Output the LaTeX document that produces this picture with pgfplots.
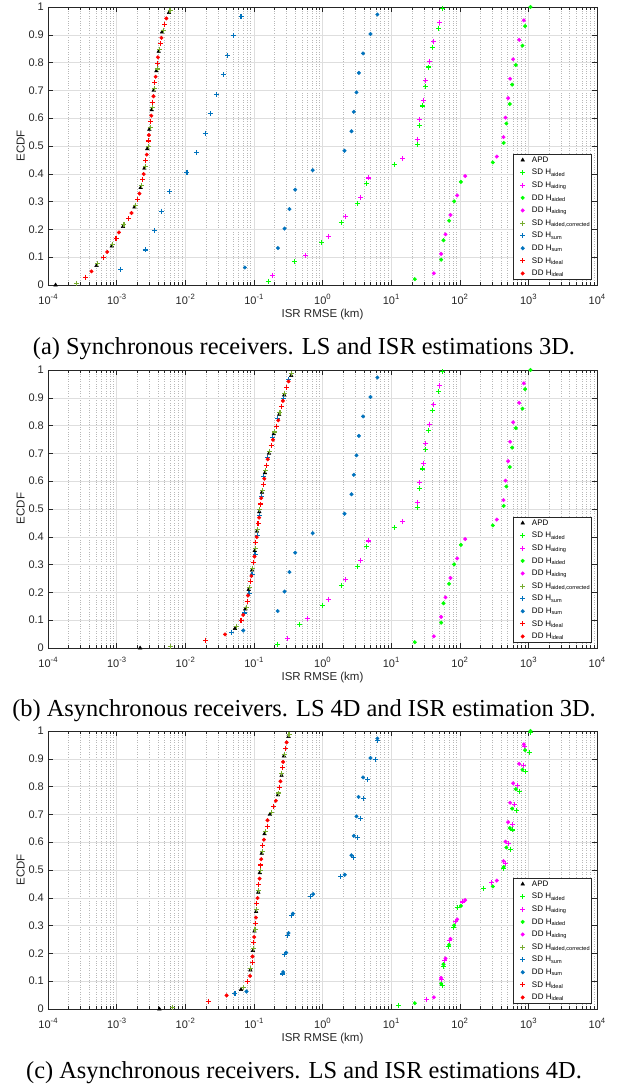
\documentclass[border=0pt]{standalone}
\usepackage{pgfplots}
\pgfplotsset{compat=1.18}
\usepackage{pgfplotstable}
\usepackage{fontspec}
\setmainfont{Liberation Serif}
\newfontfamily\arial{Liberation Sans}
\newcommand\sub[1]{\raisebox{-0.3ex}{\fontsize{5.6}{6}\selectfont #1}}
\newcommand\sups[1]{\raisebox{0.85ex}{\fontsize{7.7}{8}\selectfont #1}}
\definecolor{mgreen}{rgb}{0,1,0}
\definecolor{mmag}{rgb}{1,0,1}
\definecolor{molive}{rgb}{0.466,0.674,0.188}
\definecolor{mblue}{rgb}{0,0.447,0.741}
\definecolor{mred}{rgb}{1,0,0}
\definecolor{axgray}{rgb}{0.15,0.15,0.15}

% ---------------- data -----------------
\pgfplotstableread{
x y
22.1 0.021
53.6 0.091
58 0.161
70 0.231
82.9 0.301
104 0.371
303 0.441
437 0.511
478 0.581
536 0.651
580 0.721
656 0.791
820 0.861
897 0.931
1072 1.0
}\ddaided
\pgfplotstableread{
x y
41.9 0.042
53.6 0.112
62 0.182
73.3 0.252
91.7 0.322
120 0.392
347 0.462
434 0.532
464 0.602
507 0.672
542 0.742
600 0.812
734 0.882
858 0.952
}\ddaiding
\pgfplotstableread{
x y
0.163 0.014
0.39 0.084
0.98 0.154
1.89 0.224
3.2 0.294
4.37 0.364
11.3 0.434
24 0.504
25.7 0.574
28.6 0.644
32 0.714
35 0.784
39.6 0.854
49.6 0.924
56.6 0.994
}\Asdaided
\pgfplotstableread{
x y
0.187 0.035
0.56 0.105
1.21 0.175
2.19 0.245
3.62 0.315
4.63 0.385
14.8 0.455
24 0.525
26.2 0.595
29.3 0.665
32 0.735
35.8 0.805
41.9 0.875
51.3 0.945
}\Asdaiding
\pgfplotstableread{
x y
0.074 0.063
0.224 0.133
0.28 0.203
0.33 0.273
0.40 0.343
0.72 0.413
2.09 0.483
2.65 0.553
2.86 0.623
3.13 0.693
3.39 0.763
3.9 0.833
5.0 0.903
6.3 0.973
}\Addsum
\pgfplotstableread{
x y
1.29e-4 0
5.1e-4 0.07
8.5e-4 0.14
1.24e-3 0.21
1.82e-3 0.28
2.24e-3 0.35
2.54e-3 0.42
2.8e-3 0.49
3.0e-3 0.56
3.24e-3 0.63
3.47e-3 0.70
3.8e-3 0.77
4.1e-3 0.84
4.6e-3 0.91
5.8e-3 0.98
}\Aapd
\pgfplotstableread{
x y
2.6e-4 0.007
5.3e-4 0.077
8.8e-4 0.147
1.28e-3 0.217
1.88e-3 0.287
2.3e-3 0.357
2.6e-3 0.427
2.88e-3 0.497
3.08e-3 0.567
3.33e-3 0.637
3.56e-3 0.707
3.9e-3 0.777
4.2e-3 0.847
4.75e-3 0.917
6.0e-3 0.987
}\Aacor
\pgfplotstableread{
x y
1.15e-3 0.056
2.6e-3 0.126
3.57e-3 0.196
4.45e-3 0.266
5.9e-3 0.336
1.06e-2 0.406
1.46e-2 0.476
1.95e-2 0.546
2.36e-2 0.616
2.85e-2 0.686
3.6e-2 0.756
4.1e-2 0.826
5.0e-2 0.896
6.5e-2 0.966
}\Asdsum
\pgfplotstableread{
x y
3.5e-4 0.028
6.5e-4 0.098
9.8e-4 0.168
1.49e-3 0.238
2.04e-3 0.308
2.4e-3 0.378
2.65e-3 0.448
2.9e-3 0.518
3.1e-3 0.588
3.37e-3 0.658
3.6e-3 0.728
4.0e-3 0.798
4.36e-3 0.868
5.0e-3 0.938
}\Asdideal
\pgfplotstableread{
x y
4.3e-4 0.049
7.3e-4 0.119
1.08e-3 0.189
1.65e-3 0.259
2.15e-3 0.329
2.48e-3 0.399
2.75e-3 0.469
2.95e-3 0.539
3.2e-3 0.609
3.45e-3 0.679
3.7e-3 0.749
4.0e-3 0.819
4.5e-3 0.889
5.3e-3 0.959
}\Addideal
\pgfplotstableread{
x y
2.2e-3 0
0.053 0.07
0.075 0.14
0.084 0.21
0.094 0.28
0.103 0.35
0.111 0.42
0.120 0.49
0.131 0.56
0.145 0.63
0.166 0.70
0.195 0.77
0.234 0.84
0.277 0.91
0.35 0.98
}\Bapd
\pgfplotstableread{
x y
6.1e-3 0.007
0.055 0.077
0.077 0.147
0.086 0.217
0.096 0.287
0.105 0.357
0.113 0.427
0.122 0.497
0.133 0.567
0.148 0.637
0.170 0.707
0.20 0.777
0.24 0.847
0.283 0.917
0.355 0.987
}\Bacor
\pgfplotstableread{
x y
0.22 0.014
0.46 0.084
0.99 0.154
1.89 0.224
3.2 0.294
4.37 0.364
11.3 0.434
24 0.504
25.7 0.574
28.6 0.644
32 0.714
35 0.784
39.6 0.854
49.6 0.924
56.6 0.994
}\Bsdaided
\pgfplotstableread{
x y
0.307 0.035
0.60 0.105
1.21 0.175
2.19 0.245
3.62 0.315
4.63 0.385
14.8 0.455
24 0.525
26.2 0.595
29.3 0.665
32 0.735
35.8 0.805
41.9 0.875
51.3 0.945
}\Bsdaiding
\pgfplotstableread{
x y
0.02 0.028
0.065 0.098
0.080 0.168
0.088 0.238
0.099 0.308
0.107 0.378
0.115 0.448
0.125 0.518
0.137 0.588
0.152 0.658
0.179 0.728
0.212 0.798
0.253 0.868
0.30 0.938
}\Bsdideal
\pgfplotstableread{
x y
0.038 0.049
0.070 0.119
0.082 0.189
0.092 0.259
0.102 0.329
0.110 0.399
0.119 0.469
0.128 0.539
0.142 0.609
0.159 0.679
0.19 0.749
0.227 0.819
0.265 0.889
0.32 0.959
}\Bddideal
\pgfplotstableread{
x y
0.0475 0.056
0.074 0.126
0.085 0.196
0.094 0.266
0.104 0.336
0.112 0.406
0.122 0.476
0.13 0.546
0.14 0.616
0.157 0.686
0.187 0.756
0.222 0.826
0.27 0.896
0.32 0.966
}\Bsdsum
\pgfplotstableread{
x y
0.070 0.063
0.222 0.133
0.28 0.203
0.33 0.273
0.40 0.343
0.72 0.413
2.09 0.483
2.65 0.553
2.86 0.623
3.13 0.693
3.39 0.763
3.9 0.833
5.0 0.903
6.3 0.973
}\Bddsum
\pgfplotstableread{
x y
4.2e-3 0
0.065 0.07
0.089 0.14
0.097 0.21
0.102 0.28
0.108 0.35
0.116 0.42
0.122 0.49
0.130 0.56
0.143 0.63
0.171 0.70
0.224 0.77
0.253 0.84
0.274 0.91
0.32 0.98
}\Capd
\pgfplotstableread{
x y
6.6e-3 0.007
0.070 0.077
0.090 0.147
0.098 0.217
0.104 0.287
0.110 0.357
0.117 0.427
0.124 0.497
0.132 0.567
0.146 0.637
0.180 0.707
0.229 0.777
0.256 0.847
0.277 0.917
0.325 0.987
}\Cacor
\pgfplotstableread{
x y
0.0215 0.028
0.0817 0.098
0.0944 0.168
0.10 0.238
0.1045 0.308
0.109 0.378
0.117 0.448
0.125 0.518
0.135 0.588
0.156 0.658
0.195 0.728
0.234 0.798
0.262 0.868
0.289 0.938
}\Csdideal
\pgfplotstableread{
x y
0.040 0.049
0.088 0.119
0.0955 0.189
0.101 0.259
0.107 0.329
0.113 0.399
0.121 0.469
0.128 0.539
0.14 0.609
0.158 0.679
0.209 0.749
0.244 0.819
0.267 0.889
0.30 0.959
}\Cddideal
\pgfplotstableread{
x y
0.053 0.056
0.262 0.126
0.283 0.196
0.31 0.266
0.354 0.336
0.668 0.406
1.83 0.476
2.86 0.546
3.27 0.616
3.54 0.686
4.0 0.756
4.53 0.826
5.9 0.896
6.4 0.966
}\Csdsum
\pgfplotstableread{
x y
0.078 0.063
0.267 0.133
0.296 0.203
0.32 0.273
0.37 0.343
0.73 0.413
2.11 0.483
2.64 0.553
2.86 0.623
3.13 0.693
3.35 0.763
3.9 0.833
5.0 0.903
6.3 0.973
}\Cddsum
\pgfplotstableread{
x y
12.9 0.014
56 0.084
58 0.154
67.8 0.224
81 0.294
91.7 0.364
219 0.434
439 0.504
548 0.574
593 0.644
671 0.714
742 0.784
918 0.854
1026 0.924
1072 0.994
}\Csdaided
\pgfplotstableread{
x y
32.4 0.035
53.6 0.105
60.6 0.175
70 0.245
87.7 0.315
111 0.385
293 0.455
459 0.525
519 0.595
580 0.665
627 0.735
694 0.805
849 0.875
877 0.945
}\Csdaiding

\tikzset{
  apdm/.style={mark=triangle*, mark size=2.1pt, color=black, draw=black, fill=black,
    mark options={draw=black, fill=black, line width=0.4pt}},
  sdpm/.style={mark=+, mark size=2.5pt, line width=1.1pt, color=#1, draw=#1,
    mark options={draw=#1, fill=#1, line width=1.1pt}},
  ddcm/.style={mark=*, mark size=1.8pt, color=#1, draw=#1, fill=#1,
    mark options={draw=#1, fill=#1, line width=0.4pt}},
}

\def\axopts{%
    scale only axis, width=549pt, height=278pt,
    xmode=log, log basis x=10, xmin=1e-4, xmax=1e4, ymin=0, ymax=1,
    xtick={1e-4,1e-3,0.01,0.1,1,10,100,1000,10000},
    xticklabels={10\sups{-4},10\sups{-3},10\sups{-2},10\sups{-1},10\sups{0},10\sups{1},10\sups{2},10\sups{3},10\sups{4}},
    minor xtick={2e-4,3e-4,4e-4,5e-4,6e-4,7e-4,8e-4,9e-4,2e-3,3e-3,4e-3,5e-3,6e-3,7e-3,8e-3,9e-3,0.02,0.03,0.04,0.05,0.06,0.07,0.08,0.09,0.2,0.3,0.4,0.5,0.6,0.7,0.8,0.9,2,3,4,5,6,7,8,9,20,30,40,50,60,70,80,90,200,300,400,500,600,700,800,900,2000,3000,4000,5000,6000,7000,8000,9000},
    ytick={0,0.1,0.2,0.3,0.4,0.5,0.6,0.7,0.8,0.9,1},
    yticklabels={0,0.1,0.2,0.3,0.4,0.5,0.6,0.7,0.8,0.9,1},
    xmajorgrids, ymajorgrids, xminorgrids,
    major grid style={color=black!13, line width=0.5pt},
    minor grid style={color=black!28, dotted, line width=0.5pt},
    tick align=inside, xtick pos=both, ytick pos=both,
    major tick length=5pt, minor tick length=3pt,
    tick style={color=axgray, line width=0.5pt},
    axis line style={color=axgray, line width=0.6pt},
    ticklabel style={font=\arial\fontsize{11}{12}\selectfont, text=axgray},
    xticklabel style={anchor=base, inner sep=0pt, yshift=-19pt},
    yticklabel style={anchor=east, inner sep=0pt, xshift=-4pt},
    xlabel={ISR RMSE (km)},
    xlabel style={at={(axis description cs:0.5,0)}, anchor=center, yshift=-30pt, font=\arial\fontsize{11.5}{13}\selectfont, text=axgray},
    legend cell align=left,
    legend style={font=\arial\fontsize{8}{9}\selectfont,
      at={(1,0)}, anchor=south east, xshift=-5pt, yshift=5pt,
      draw=axgray, line width=0.6pt, fill=white,
      inner xsep=6.4pt, inner ysep=2pt,
      row sep=4.1pt, column sep=6.8pt,
      nodes={inner sep=0pt, text height=6.5pt, text depth=2pt}}%
}
\newcommand\beginaxis[1]{\begingroup\edef\x{\endgroup\noexpand\begin{axis}[\unexpanded\expandafter{\axopts},#1]}\x}
\newcommand\ylab[1]{\node[rotate=90, anchor=center, font=\arial\fontsize{11.5}{13}\selectfont, text=axgray] at (20.7pt,#1) {ECDF};}

\begin{document}
\begin{tikzpicture}
\path[use as bounding box] (0,0) rectangle (626pt,-1089pt);

% ---------- (a) ----------
\beginaxis{at={(48pt,-285pt)}, anchor=south west}
\addplot[only marks, apdm] table {\Aapd}; \addlegendentry{APD}
\addplot[only marks, sdpm=mgreen] table {\Asdaided}; \addlegendentry{SD H\sub{aided}}
\addplot[only marks, sdpm=mmag] table {\Asdaiding}; \addlegendentry{SD H\sub{aiding}}
\addplot[only marks, ddcm=mgreen] table {\ddaided}; \addlegendentry{DD H\sub{aided}}
\addplot[only marks, ddcm=mmag] table {\ddaiding}; \addlegendentry{DD H\sub{aiding}}
\addplot[only marks, sdpm=molive] table {\Aacor}; \addlegendentry{SD H\sub{aided,corrected}\hspace*{-4.4pt}}
\addplot[only marks, sdpm=mblue] table {\Asdsum}; \addlegendentry{SD H\sub{sum}}
\addplot[only marks, ddcm=mblue] table {\Addsum}; \addlegendentry{DD H\sub{sum}}
\addplot[only marks, sdpm=mred] table {\Asdideal}; \addlegendentry{SD H\sub{ideal}}
\addplot[only marks, ddcm=mred] table {\Addideal}; \addlegendentry{DD H\sub{ideal}}
\end{axis}
\ylab{-146pt}
\node[font=\fontsize{24.4}{28}\selectfont, anchor=center] at (304pt,-349pt) {(a) Synchronous receivers. LS and ISR estimations 3D.};

% ---------- (b) ----------
\beginaxis{at={(48pt,-648pt)}, anchor=south west}
\addplot[only marks, apdm] table {\Bapd}; \addlegendentry{APD}
\addplot[only marks, sdpm=mgreen] table {\Bsdaided}; \addlegendentry{SD H\sub{aided}}
\addplot[only marks, sdpm=mmag] table {\Bsdaiding}; \addlegendentry{SD H\sub{aiding}}
\addplot[only marks, ddcm=mgreen] table {\ddaided}; \addlegendentry{DD H\sub{aided}}
\addplot[only marks, ddcm=mmag] table {\ddaiding}; \addlegendentry{DD H\sub{aiding}}
\addplot[only marks, sdpm=molive] table {\Bacor}; \addlegendentry{SD H\sub{aided,corrected}\hspace*{-4.4pt}}
\addplot[only marks, sdpm=mblue] table {\Bsdsum}; \addlegendentry{SD H\sub{sum}}
\addplot[only marks, ddcm=mblue] table {\Bddsum}; \addlegendentry{DD H\sub{sum}}
\addplot[only marks, sdpm=mred] table {\Bsdideal}; \addlegendentry{SD H\sub{ideal}}
\addplot[only marks, ddcm=mred] table {\Bddideal}; \addlegendentry{DD H\sub{ideal}}
\end{axis}
\ylab{-508.5pt}
\node[font=\fontsize{24.4}{28}\selectfont, anchor=center] at (304pt,-711pt) {(b) Asynchronous receivers. LS 4D and ISR estimation 3D.};

% ---------- (c) ----------
\beginaxis{at={(48pt,-1009pt)}, anchor=south west}
\addplot[only marks, apdm] table {\Capd}; \addlegendentry{APD}
\addplot[only marks, sdpm=mgreen] table {\Csdaided}; \addlegendentry{SD H\sub{aided}}
\addplot[only marks, sdpm=mmag] table {\Csdaiding}; \addlegendentry{SD H\sub{aiding}}
\addplot[only marks, ddcm=mgreen] table {\ddaided}; \addlegendentry{DD H\sub{aided}}
\addplot[only marks, ddcm=mmag] table {\ddaiding}; \addlegendentry{DD H\sub{aiding}}
\addplot[only marks, sdpm=molive] table {\Cacor}; \addlegendentry{SD H\sub{aided,corrected}\hspace*{-4.4pt}}
\addplot[only marks, sdpm=mblue] table {\Csdsum}; \addlegendentry{SD H\sub{sum}}
\addplot[only marks, ddcm=mblue] table {\Cddsum}; \addlegendentry{DD H\sub{sum}}
\addplot[only marks, sdpm=mred] table {\Csdideal}; \addlegendentry{SD H\sub{ideal}}
\addplot[only marks, ddcm=mred] table {\Cddideal}; \addlegendentry{DD H\sub{ideal}}
\end{axis}
\ylab{-870pt}
\node[font=\fontsize{24.4}{28}\selectfont, anchor=center] at (304pt,-1073pt) {(c) Asynchronous receivers. LS and ISR estimations 4D.};
\end{tikzpicture}
\end{document}
